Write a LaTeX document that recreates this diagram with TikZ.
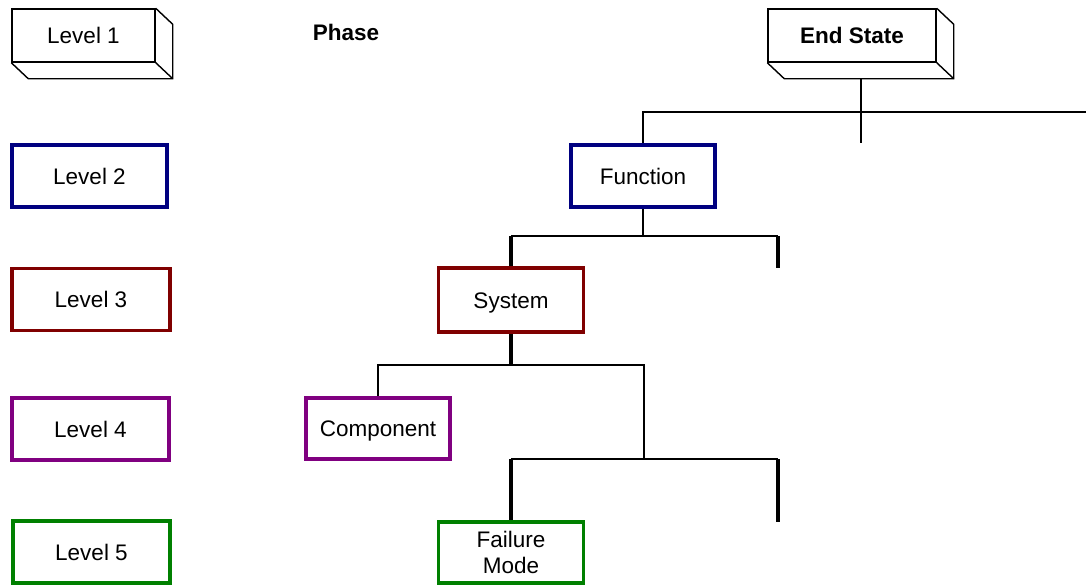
\documentclass[tikz,border=0pt]{standalone}
\usepackage{fontspec}
\setmainfont{Liberation Sans}
\usetikzlibrary{calc}
\definecolor{lvnavy}{RGB}{0,0,128}
\definecolor{lvmaroon}{RGB}{128,0,0}
\definecolor{lvpurple}{RGB}{128,0,128}
\definecolor{lvgreen}{RGB}{0,128,0}

\begin{document}
\begin{tikzpicture}[
    x=0.025cm, y=-0.025cm,
    lvl/.style={draw, line width=2.8pt, minimum height=1.55cm, align=center, font=\fontsize{16}{18.4}\selectfont},
    slab/.style={draw, line width=1pt, minimum height=1.325cm, align=center, font=\fontsize{16}{18.4}\selectfont\bfseries},
    oneline/.style={text height=11.5pt, text depth=0pt},
    wire/.style={line width=1.3pt},
    heavy/.style={line width=2.6pt}
]
\useasboundingbox (0,0) rectangle (1086,586);

% Level column
\node[slab, oneline, minimum width=3.575cm, font=\fontsize{16}{18.4}\selectfont] (lv1) at (83.5,35.5) {Level 1};
\node[lvl, oneline, draw=lvnavy, minimum width=3.875cm] (lv2) at (89.5,176) {Level 2};
\node[lvl, oneline, draw=lvmaroon, minimum width=3.95cm] (lv3) at (91,299.5) {Level 3};
\node[lvl, oneline, draw=lvpurple, minimum width=3.925cm] (lv4) at (90.5,429) {Level 4};
\node[lvl, oneline, draw=lvgreen, minimum width=3.925cm] (lv5) at (91.5,552) {Level 5};

\node[font=\fontsize{16}{18.4}\selectfont\bfseries] (phase) at (346,32) {Phase};

% The tree
\node[slab, oneline, minimum width=4.2cm] (endst) at (852,35.5) {End State};
\node[lvl, oneline, draw=lvnavy, minimum width=3.6cm] (func) at (643,176) {Function};
\node[lvl, oneline, draw=lvmaroon, minimum width=3.625cm, minimum height=1.6cm] (sys) at (511,300) {System};
\node[lvl, oneline, draw=lvpurple, minimum width=3.6cm, minimum height=1.525cm] (comp) at (378,428.5) {Component};
\node[lvl, draw=lvgreen, minimum width=3.625cm, minimum height=1.525cm] (fail) at (511,552.5) {Failure\\Mode};

% Block depth
\foreach \n in {lv1, endst} {
  \draw[line width=1pt] (\n.north east) -- ++(17,16) |- ($(\n.south west)+(17,16)$) -- (\n.south west);
  \draw[line width=1pt] (\n.south east) -- ++(17,16);
}

% Free ends
\coordinate (esbot) at (861,78);
\coordinate (estail) at (861,143);
\coordinate (busend) at (1086,112);
\coordinate (j2) at (643,236);
\coordinate (stubA) at (778,268);
\coordinate (j3) at (511,365);
\coordinate (j4) at (644,365);
\coordinate (j5) at (644,459);
\coordinate (stubB) at (778,522);

% Connectors
\draw[wire] (esbot) -- (estail);
\draw[wire] (func.north) |- (busend);
\draw[wire] (func.south) -- (func.south |- j2);
\draw[wire] (sys.north |- j2) -- (stubA |- j2);
\draw[heavy] (sys.north |- j2) -- (sys.north);
\draw[heavy] (stubA |- j2) -- (stubA);
\draw[heavy] (sys.south) -- (sys.south |- j3);
\draw[wire] (comp.north) |- (j4) -- (j5);
\draw[wire] (fail.north |- j5) -- (stubB |- j5);
\draw[heavy] (fail.north |- j5) -- (fail.north);
\draw[heavy] (stubB |- j5) -- (stubB);

\end{tikzpicture}
\end{document}
